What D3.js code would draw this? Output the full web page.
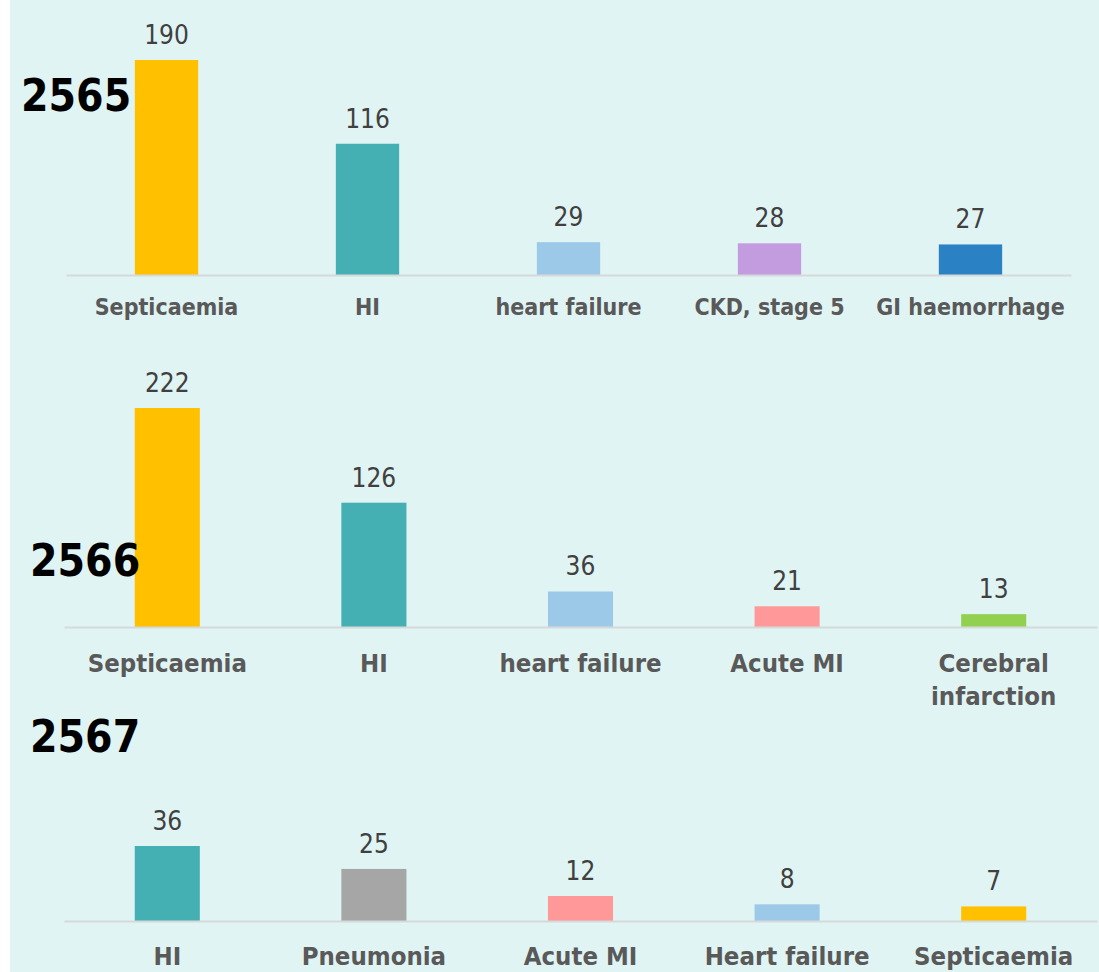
<!DOCTYPE html>
<html>
<head>
<meta charset="utf-8">
<script src="https://cdn.jsdelivr.net/npm/d3@7"></script>
<style>
  body { margin: 0; background: #fff; }
  text { font-family: Tahoma, "DejaVu Sans Condensed", "DejaVu Sans", sans-serif; font-stretch: condensed; }
</style>
</head>
<body>
<svg id="chart"></svg>
<script>
// data for each year
var years = ["2565", "2566", "2567"];

var cats2565 = ["Septicaemia", "HI", "heart failure", "CKD, stage 5", "GI haemorrhage"];
var vals2565 = [190, 116, 29, 28, 27];
var cols2565 = ["#FFC000", "#45B0B3", "#9DC9E9", "#C39BDF", "#2A81C3"];

var cats2566 = ["Septicaemia", "HI", "heart failure", "Acute MI", "Cerebral infarction"];
var vals2566 = [222, 126, 36, 21, 13];
var cols2566 = ["#FFC000", "#45B0B3", "#9DC9E9", "#FF9999", "#92D050"];

var cats2567 = ["HI", "Pneumonia", "Acute MI", "Heart failure", "Septicaemia"];
var vals2567 = [36, 25, 12, 8, 7];
var cols2567 = ["#45B0B3", "#A6A6A6", "#FF9999", "#9DC9E9", "#FFC000"];

var width = 1099, height = 972;

var svg = d3.select("#chart")
  .attr("width", width)
  .attr("height", height);

// background panel
svg.append("rect")
  .attr("x", 10).attr("y", 0)
  .attr("width", width - 10).attr("height", height)
  .attr("fill", "#E1F4F4");

// layout of the three small charts
var panels = [
  { year: years[0], cats: cats2565, vals: vals2565, cols: cols2565,
    x0: 66, x1: 1071, base: 275, top: 60, catSize: 23, catDy: 40,
    yearX: 21, yearY: 111 },
  { year: years[1], cats: cats2566, vals: vals2566, cols: cols2566,
    x0: 64, x1: 1097, base: 627, top: 408, catSize: 25.5, catDy: 45,
    yearX: 30, yearY: 576 },
  { year: years[2], cats: cats2567, vals: vals2567, cols: cols2567,
    x0: 64, x1: 1097, base: 921, top: 846, catSize: 25.5, catDy: 44,
    yearX: 30, yearY: 752 }
];

// wrap long labels into two lines
function wrap(sel, maxW, lineH) {
  sel.each(function () {
    var t = d3.select(this);
    if (this.getComputedTextLength() <= maxW) return;
    var words = t.text().split(" ");
    var dy = t.attr("dy");
    t.text(null);
    t.append("tspan").attr("x", 0).attr("dy", dy).text(words[0]);
    t.append("tspan").attr("x", 0).attr("dy", lineH).text(words.slice(1).join(" "));
  });
}

panels.forEach(function (p) {
  var g = svg.append("g");

  var x = d3.scaleBand()
    .domain(p.cats)
    .range([p.x0, p.x1])
    .paddingInner(0.685)
    .paddingOuter(0.3425);

  var y = d3.scaleLinear()
    .domain([0, d3.max(p.vals)])
    .range([p.base, p.top]);

  var rows = p.cats.map(function (c, i) {
    return { cat: c, val: p.vals[i], col: p.cols[i] };
  });

  // bars
  g.selectAll(".bar")
    .data(rows)
    .enter()
    .append("rect")
      .attr("class", "bar")
      .attr("x", function (d) { return x(d.cat); })
      .attr("y", function (d) { return y(d.val); })
      .attr("width", x.bandwidth())
      .attr("height", function (d) { return p.base - y(d.val); })
      .attr("fill", function (d) { return d.col; });

  // x axis
  var ax = g.append("g")
    .attr("transform", "translate(0," + p.base + ")")
    .call(d3.axisBottom(x).tickSize(0).tickSizeOuter(0));
  ax.select(".domain")
    .attr("stroke", "#D5D9D9")
    .attr("stroke-width", 2);
  ax.selectAll(".tick text")
    .attr("y", 0)
    .attr("dy", p.catDy)
    .attr("fill", "#595959")
    .style("font-size", p.catSize + "px")
    .style("font-weight", "bold")
    .call(wrap, x.step() - 4, 33);

  // value labels
  g.selectAll(".val")
    .data(rows)
    .enter()
    .append("text")
      .attr("class", "val")
      .attr("x", function (d) { return x(d.cat) + x.bandwidth() / 2; })
      .attr("y", function (d) { return y(d.val) - 16; })
      .attr("text-anchor", "middle")
      .attr("fill", "#404040")
      .style("font-size", "26px")
      .text(function (d) { return d.val; });
});

// year titles on top
panels.forEach(function (p) {
  svg.append("text")
    .attr("x", p.yearX)
    .attr("y", p.yearY)
    .attr("fill", "#000")
    .style("font-size", "44px")
    .style("font-weight", "bold")
    .text(p.year);
});
</script>
</body>
</html>
